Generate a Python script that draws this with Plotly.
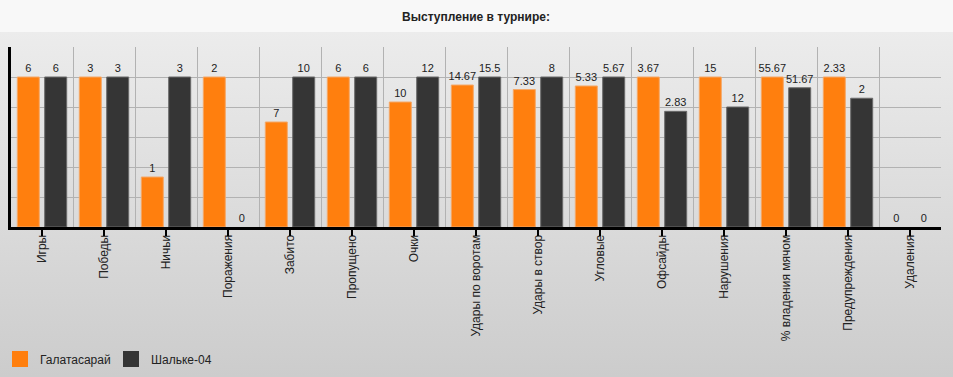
import base64
import plotly.graph_objects as go

categories = ["Игры", "Победы", "Ничьи", "Поражения", "Забито", "Пропущено", "Очки",
              "Удары по воротам", "Удары в створ", "Угловые", "Офсайды", "Нарушения",
              "% владения мячом", "Предупреждения", "Удаления"]
galatasaray = [6, 3, 1, 2, 7, 6, 10, 14.67, 7.33, 5.33, 3.67, 15, 55.67, 2.33, 0]
schalke = [6, 3, 3, 0, 10, 6, 12, 15.5, 8, 5.67, 2.83, 12, 51.67, 2, 0]
team_names = ["Галатасарай", "Шальке-04"]
title_text = "Выступление в турнире:"

W, H = 953, 377
L, R, T, B = 11, 12, 47, 150
PW, PH = W - L - R, H - T - B

ORANGE = "#ff7f0e"
DARK = "#353535"


def norm(a, b):
    out = []
    for x, y in zip(a, b):
        m = max(x, y)
        out.append(x / m if m > 0 else 0)
    return out


g_h = norm(galatasaray, schalke)
s_h = norm(schalke, galatasaray)

fmt = lambda v: f"{v:g}"
edge = lambda vals: [1 if v > 0 else 0 for v in vals]

fig = go.Figure()
common = dict(textposition="outside", textangle=0, constraintext="none", cliponaxis=False,
              textfont=dict(family="Liberation Sans, Arial", size=11, color="#222222"),
              hoverinfo="skip", showlegend=False)
fig.add_bar(x=categories, y=g_h, text=[fmt(v) for v in galatasaray], name=team_names[0],
            marker=dict(color=ORANGE, line=dict(color="#f4a868", width=edge(galatasaray))), **common)
fig.add_bar(x=categories, y=s_h, text=[fmt(v) for v in schalke], name=team_names[1],
            marker=dict(color=DARK, line=dict(color="#6a6a6a", width=edge(schalke))), **common)

# legend entries
for nm, col in zip(team_names, [ORANGE, DARK]):
    fig.add_scatter(x=[None], y=[None], mode="markers", name=nm,
                    marker=dict(symbol="square", size=16, color=col, line=dict(width=0)))

# invisible trace carrying the centre tick marks
fig.add_scatter(x=categories, y=[0] * len(categories), xaxis="x2", mode="markers",
                marker=dict(opacity=0), showlegend=False, hoverinfo="skip")

svg = f'''<svg xmlns="http://www.w3.org/2000/svg" width="{W}" height="{H}">
<defs><linearGradient id="g" x1="0" y1="0" x2="0" y2="1">
<stop offset="0" stop-color="#ececec"/><stop offset="1" stop-color="#cccccc"/></linearGradient></defs>
<rect x="0" y="32" width="{W}" height="{H-32}" fill="url(#g)"/>
<rect x="0" y="0" width="{W}" height="32" fill="#f8f8f8"/></svg>'''
src = "data:image/svg+xml;base64," + base64.b64encode(svg.encode()).decode()

xr = [-0.5, len(categories) - 0.5]
fig.update_layout(
    width=W, height=H,
    margin=dict(l=L, r=R, t=T, b=B, pad=0, autoexpand=False),
    paper_bgcolor="#dcdcdc",
    plot_bgcolor="rgba(0,0,0,0)",
    barmode="group", bargap=0.116, bargroupgap=0.197,
    title=dict(text=title_text, x=0.5, xref="paper", xanchor="center",
               y=1 - 17 / H, yref="container", yanchor="middle",
               font=dict(family="Liberation Sans, Arial", size=12, color="#222222", weight="bold")),
    images=[dict(source=src, xref="paper", yref="paper", x=-L / PW, y=1 + T / PH,
                 sizex=W / PW, sizey=H / PH, sizing="stretch", xanchor="left", yanchor="top",
                 layer="below")],
    xaxis=dict(type="category", categoryarray=categories, tickson="boundaries",
               showgrid=True, gridcolor="#b2b2b2", gridwidth=1,
               ticks="outside", tickcolor="rgba(0,0,0,0)", ticklen=8,
               tickangle=-90,
               tickfont=dict(family="Liberation Sans, Arial", size=12, color="#222222"),
               showline=True, linecolor="#000000", linewidth=3, mirror=False, range=xr),
    xaxis2=dict(type="category", categoryarray=categories, overlaying="x", anchor="y",
                side="bottom", range=xr, ticks="outside", ticklen=8, tickwidth=1.5,
                tickcolor="#000000", showticklabels=False, showgrid=False, showline=False,
                zeroline=False),
    yaxis=dict(range=[0, 1.2], dtick=0.2, showgrid=True, gridcolor="#b2b2b2", gridwidth=1,
               showticklabels=False, ticks="", zeroline=False,
               showline=True, linecolor="#000000", linewidth=3),
    legend=dict(orientation="h", x=-L / PW, xanchor="left", y=(T + PH - 359) / PH,
                yanchor="middle", font=dict(family="Liberation Sans, Arial", size=12, color="#222222"),
                bgcolor="rgba(0,0,0,0)", itemsizing="trace", entrywidth=66, entrywidthmode="pixels"),
)

fig.write_html("out.html", config={"displayModeBar": False},
               post_script="document.body.style.margin='0';document.body.style.overflow='hidden';")
